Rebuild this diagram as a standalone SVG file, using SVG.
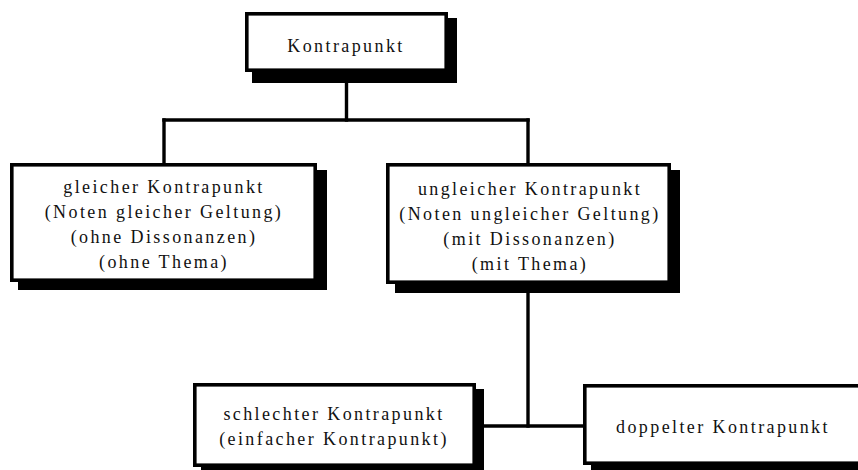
<svg xmlns="http://www.w3.org/2000/svg" width="858" height="470" viewBox="0 0 858 470">
  <style>
    .shadow { fill: #000; }
    .box { fill: #fff; stroke: #000; stroke-width: 3.6; }
    .label { font-family: "Liberation Serif", "Times New Roman", serif; font-size: 18px; letter-spacing: 2.4px; fill: #111; text-anchor: middle; }
    .wire { fill: none; stroke: #000; stroke-width: 3.4; stroke-linecap: square; }
  </style>
  <rect width="858" height="470" fill="#fff"/>

  <g id="connectors">
    <path class="wire" d="M346.5 72 V120"/>
    <path class="wire" d="M164 120 H528"/>
    <path class="wire" d="M164 120 V163"/>
    <path class="wire" d="M528 120 V163"/>
    <path class="wire" d="M528 290 V426"/>
    <path class="wire" d="M484 426 H583"/>
  </g>

  <g id="kontrapunkt">
    <rect class="shadow" x="252" y="18" width="205" height="65"/>
    <rect class="box" x="246.8" y="13.8" width="199.4" height="56.4"/>
    <text class="label" x="346" y="52">Kontrapunkt</text>
  </g>

  <g id="gleicher">
    <rect class="shadow" x="18" y="170" width="309" height="120"/>
    <rect class="box" x="11.8" y="164.8" width="303.4" height="115.4"/>
    <text class="label" x="164" y="193">gleicher Kontrapunkt</text>
    <text class="label" x="164" y="218">(Noten gleicher Geltung)</text>
    <text class="label" x="164" y="243">(ohne Dissonanzen)</text>
    <text class="label" x="164" y="268">(ohne Thema)</text>
  </g>

  <g id="ungleicher">
    <rect class="shadow" x="395" y="170" width="285" height="123"/>
    <rect class="box" x="387.8" y="164.8" width="281.4" height="117.4"/>
    <text class="label" x="530" y="195">ungleicher Kontrapunkt</text>
    <text class="label" x="530" y="220">(Noten ungleicher Geltung)</text>
    <text class="label" x="530" y="245">(mit Dissonanzen)</text>
    <text class="label" x="530" y="270">(mit Thema)</text>
  </g>

  <g id="schlechter">
    <rect class="shadow" x="201" y="389" width="283" height="83"/>
    <rect class="box" x="194.8" y="384.8" width="279.4" height="80.4"/>
    <text class="label" x="334" y="420">schlechter Kontrapunkt</text>
    <text class="label" x="334" y="445">(einfacher Kontrapunkt)</text>
  </g>

  <g id="doppelter">
    <rect class="shadow" x="591" y="390" width="300" height="82"/>
    <rect class="box" x="584.8" y="385.8" width="300" height="77.4"/>
    <text class="label" x="723" y="433">doppelter Kontrapunkt</text>
  </g>
</svg>
